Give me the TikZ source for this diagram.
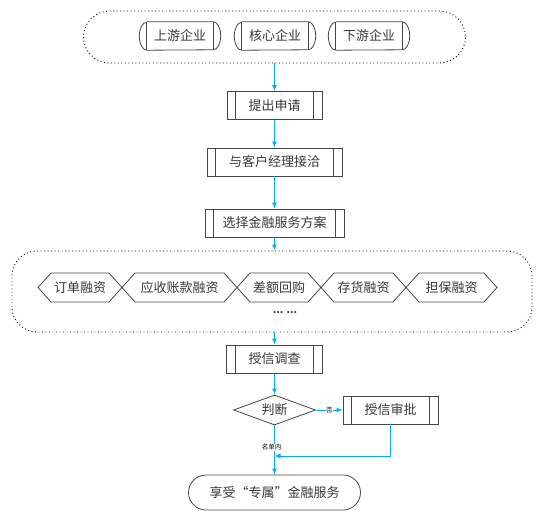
\documentclass[tikz,border=0pt]{standalone}
\usepackage{fontspec}
\setmainfont{Noto Sans CJK SC}
\usepackage{tikz}
\usetikzlibrary{arrows.meta,positioning,shapes.geometric}
\definecolor{linegray}{RGB}{70,70,70}
\definecolor{textgray}{RGB}{55,55,55}
\definecolor{flowblue}{RGB}{0,176,240}
\tikzset{
  boxfont/.style={text=textgray, font=\fontsize{13}{15}\selectfont},
  procbox/.style={draw=linegray, line width=0.8pt, minimum height=28pt, inner sep=0pt, boxfont,
    path picture={\draw[linegray, line width=1.3pt]
      ([xshift=#1]path picture bounding box.north west) -- ([xshift=#1]path picture bounding box.south west)
      ([xshift=-#1]path picture bounding box.north east) -- ([xshift=-#1]path picture bounding box.south east);}},
  procbox/.default=8.5pt,
  firmbox/.style={minimum width=66pt, minimum height=28pt, inner sep=0pt, boxfont},
  groupbox/.style={draw=black, line width=0.9pt, dash pattern=on 0.9pt off 2.6pt, inner sep=0pt},
  hexline/.style={draw=linegray, line width=0.8pt},
  decision/.style={diamond, draw=linegray, line width=0.8pt, aspect=2.7, inner sep=0pt,
    minimum width=82pt, minimum height=30pt, boxfont},
  termbox/.style={draw=linegray, line width=0.8pt, rounded corners=17.5pt,
    minimum width=172pt, minimum height=35pt, boxfont},
  flow/.style={-{Latex[length=6pt,width=5pt]}, draw=flowblue, line width=1pt},
  smalllabel/.style={fill=white, inner sep=0.5pt, text=black, font=\fontsize{6.5}{7}\selectfont}
}

\begin{document}
\begin{tikzpicture}[x=1pt,y=-1pt]
\useasboundingbox (0,0) rectangle (549,524);

% enterprises
\node[groupbox, minimum width=382pt, minimum height=52pt, rounded corners=26pt] (firms) at (274.5,37) {};
\node[firmbox] (up) at (180,36) {上游企业};
\node[firmbox] (core) at (275,36) {核心企业};
\node[firmbox] (down) at (369,36) {下游企业};
\foreach \n in {up,core,down}{
  \draw[hexline] (\n.north west) -- (\n.north east)
    arc[start angle=90, end angle=-90, x radius=7.5pt, y radius=14pt] -- (\n.south west)
    arc[start angle=270, end angle=90, x radius=7.5pt, y radius=14pt];
  \draw[linegray, line width=1.3pt] (\n.north west) -- (\n.south west) (\n.north east) -- (\n.south east);
}

\node[procbox, minimum width=95pt] (apply) at (274.5,105.5) {提出申请};
\node[procbox, minimum width=135pt] (meet) at (274.5,162) {与客户经理接洽};
\node[procbox, minimum width=139pt] (plan) at (274.5,223) {选择金融服务方案};

% financing products
\node[groupbox, minimum width=520pt, minimum height=81pt, rounded corners=25pt] (finance) at (272,291.5) {};
\foreach \l/\r/\t [count=\i] in {38/122/订单融资, 122/237/应收账款融资, 237/321/差额回购, 321/406/存货融资, 406/497/担保融资}{
  \draw[hexline] (\l,287.5) -- (\l+13,273) -- (\r-13,273) -- (\r,287.5) -- (\r-13,302) -- (\l+13,302) -- cycle;
  \node[boxfont] (prod\i) at ({(\l+\r)/2},287.5) {\t};
}
\node[font=\fontsize{10}{12}\selectfont\bfseries, text=textgray] (more) at (285,313) {... ...};

\node[procbox=9pt, minimum width=96pt] (survey) at (274.5,359) {授信调查};
\node[decision] (judge) at (274.5,410) {判断};
\node[procbox, minimum width=95pt] (approve) at (390.5,410) {授信审批};
\node[termbox] (enjoy) at (274.5,492.5) {享受“专属”金融服务};
\coordinate (merge) at (274.5,456);

\draw[flow] (firms.south) -- (apply.north);
\draw[flow] (apply) -- (meet);
\draw[flow] (meet) -- (plan);
\draw[flow] (plan.south) -- (plan.south |- finance.north);
\draw[flow] (finance.south -| survey.north) -- (survey.north);
\draw[flow] (survey) -- (judge);
\draw[flow] (judge.east) -- node[smalllabel]{否} (approve.west);
\draw[flow] (approve.south) |- (merge);
\draw[flow] (judge.south) -- node[smalllabel, pos=0.44, xshift=-3pt]{名单内} (enjoy.north);
\end{tikzpicture}
\end{document}
